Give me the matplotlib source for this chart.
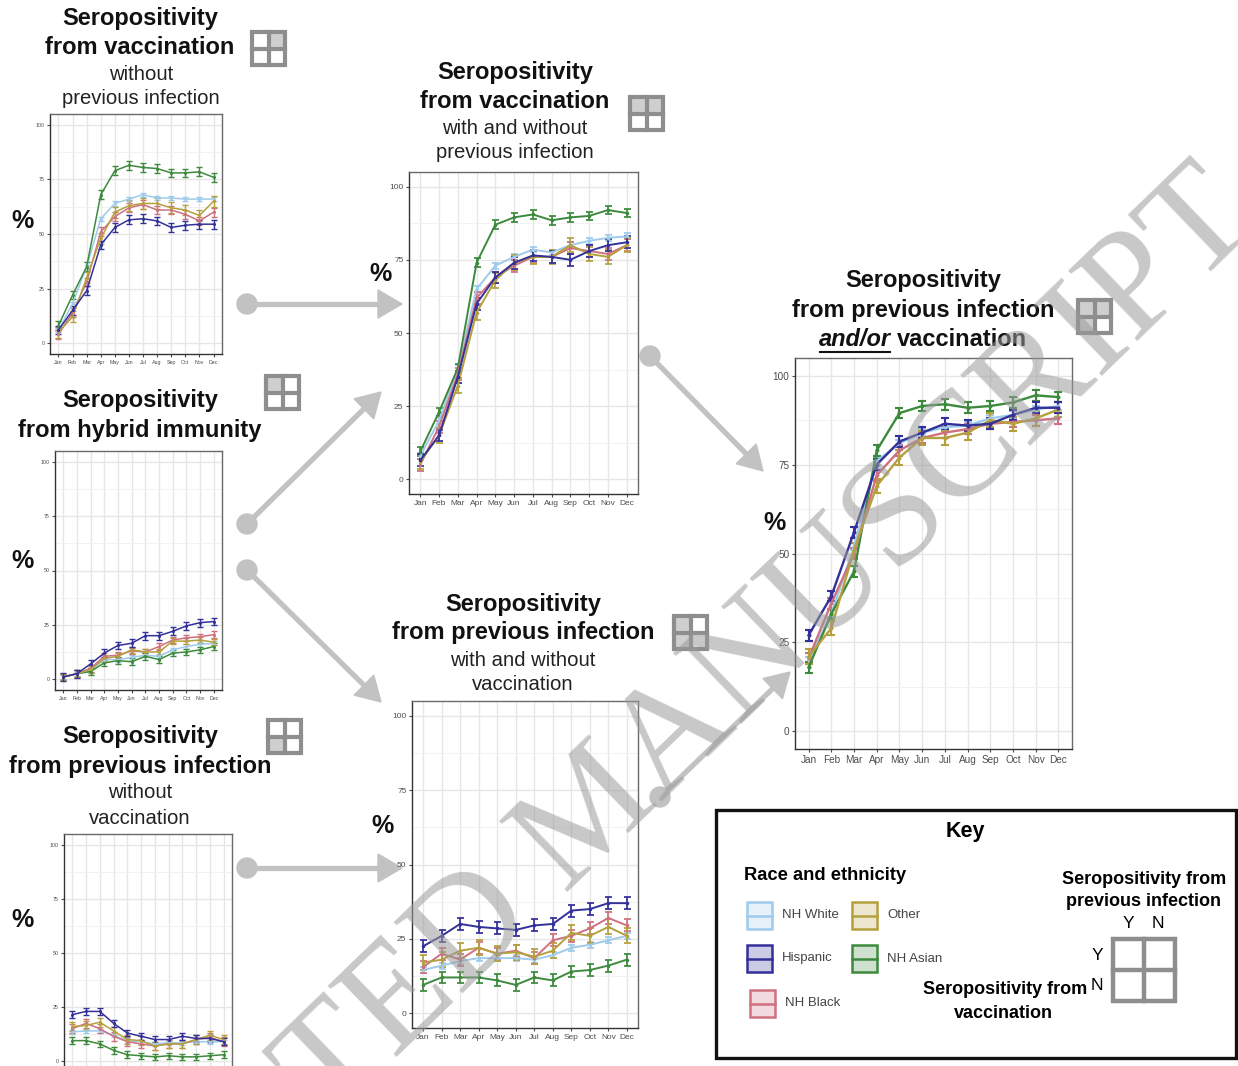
import matplotlib
matplotlib.use("Agg")
import matplotlib.pyplot as plt
from matplotlib.patches import Rectangle, Circle, Polygon
import numpy as np

plt.rcParams["font.family"] = ["Liberation Sans", "DejaVu Sans"]

W, H = 1238, 1066

months = ["Jan", "Feb", "Mar", "Apr", "May", "Jun",
          "Jul", "Aug", "Sep", "Oct", "Nov", "Dec"]
groups = ["NH White", "NH Asian", "NH Black", "Other", "Hispanic"]
colors = {"NH White": "#9fcbea", "Hispanic": "#33309a", "NH Black": "#cf7081",
          "Other": "#b5a03e", "NH Asian": "#3d8a3d"}

# Seropositivity (%) by month, per group
vacc_no_inf = {
    "NH Asian": [8, 22, 35, 68, 79, 81.5, 80.5, 80, 78, 78, 78.5, 76],
    "NH White": [6, 18, 35, 57, 64, 66, 68, 66.5, 66.5, 66, 66, 66],
    "Other":    [5, 12, 30, 48, 60, 63, 64, 64, 62, 61, 58.5, 65],
    "NH Black": [4, 14, 28, 51, 58, 62, 63.5, 61, 61, 59, 56, 60],
    "Hispanic": [6, 15, 24, 45, 53, 56.5, 57, 56, 53, 54, 54.5, 54.5],
}
vacc_no_inf_err = {"NH Asian": 2, "NH White": 1, "Other": 2.5, "NH Black": 2, "Hispanic": 2}

hybrid = {
    "Hispanic": [1, 2.5, 7, 12, 15.5, 16.5, 20, 20, 22, 24.5, 26, 26.5],
    "NH Black": [1, 2.5, 5, 10.5, 11, 13, 12.5, 15, 18, 19, 19.5, 20.5],
    "Other":    [1, 2.5, 4.5, 9.5, 10.5, 13.5, 12.5, 12.5, 17.5, 17.5, 18, 17],
    "NH White": [1, 2.5, 4, 9, 9, 10, 11, 10.5, 13.5, 15, 16, 16.5],
    "NH Asian": [1, 2.5, 3.5, 7.5, 8.5, 8, 10.5, 9, 12, 12.5, 13.5, 15],
}
hybrid_err = {"Hispanic": 1.8, "NH Black": 1.5, "Other": 1.5, "NH White": 1, "NH Asian": 1.5}

inf_no_vacc = {
    "Hispanic": [21.5, 23, 23, 17.5, 13, 11.5, 10, 10, 11.5, 10.5, 10.5, 9],
    "NH Black": [15, 17.5, 15, 11.5, 9, 8, 7, 8, 8, 10, 11, 9],
    "Other":    [16, 16.5, 18, 14, 10, 9.5, 7, 8, 8, 10, 12, 10],
    "NH White": [13.5, 14, 14, 12, 9.5, 9, 8, 8.5, 8.5, 9, 9, 9],
    "NH Asian": [9.5, 9.5, 8, 5, 3, 2.5, 2, 2.5, 2, 2, 2.5, 3],
}
inf_no_vacc_err = {"Hispanic": 1.5, "NH Black": 2, "Other": 2, "NH White": 1, "NH Asian": 1.5}

vacc_any = {
    "NH Asian": [9.5, 23, 38, 74, 87, 89.5, 90.5, 88.5, 89.5, 90, 92, 91],
    "NH White": [8, 20, 38, 65, 73, 76, 78.5, 77.5, 80, 81.5, 82.5, 83],
    "Hispanic": [6.5, 15, 35, 60, 69, 74, 76.5, 76, 75, 78, 80, 81],
    "NH Black": [5, 18, 36, 62, 69, 73, 76, 76, 79, 78, 77, 80],
    "Other":    [6, 15, 32, 57, 68, 74, 76, 76, 80, 77, 76, 80],
}
vacc_any_err = {"NH Asian": 1.5, "NH White": 1, "Hispanic": 2, "NH Black": 2, "Other": 2.5}

inf_any = {
    "Hispanic": [22.5, 26, 30, 29, 28.5, 28, 29.5, 30, 34.5, 35, 37, 37],
    "NH Black": [15.5, 20, 18, 22, 20, 21, 18.5, 24.5, 26, 28.5, 32, 29.5],
    "Other":    [17, 18, 21, 22, 20, 20.5, 19, 21, 27, 26, 29, 26],
    "NH White": [14.5, 16, 17.5, 18.5, 18.5, 18.5, 18, 19.5, 22, 23, 24.5, 26],
    "NH Asian": [9.5, 12, 12, 12, 11, 9.5, 12, 11, 14, 14.5, 16, 18],
}
inf_any_err = {"Hispanic": 2, "NH Black": 2, "Other": 2.5, "NH White": 1, "NH Asian": 2}

inf_or_vacc = {
    "Hispanic": [27, 38, 56, 75, 81.5, 84, 86.5, 86, 86.5, 89, 91, 91],
    "NH Asian": [18, 33, 45, 79, 89.5, 91.5, 92, 91, 91.5, 92.5, 94.5, 94],
    "NH White": [20, 33, 52, 76, 81, 84, 85.5, 86, 88, 89, 90.5, 91.5],
    "NH Black": [20.5, 36, 50, 72, 79, 82.5, 84, 85, 86.5, 87, 87.5, 88],
    "Other":    [21, 29, 51, 69, 77, 82.5, 82.5, 84, 87.5, 86.5, 88, 90.5],
}
inf_or_vacc_err = {"Hispanic": 1.5, "NH Asian": 1.5, "NH White": 1, "NH Black": 1.5, "Other": 2}

fig = plt.figure(figsize=(W / 100, H / 100), dpi=100)

# full-figure drawing layer in pixel units
cv = fig.add_axes([0, 0, 1, 1])
cv.set_xlim(0, W)
cv.set_ylim(H, 0)
cv.axis("off")


def px_axes(x0, y0, x1, y1):
    return fig.add_axes([x0 / W, 1 - y1 / H, (x1 - x0) / W, (y1 - y0) / H])


def panel(rect, data, err, tick_fs, lw, show_x=True):
    ax = px_axes(*rect)
    x = np.arange(1, 13)
    for g in groups:
        ax.errorbar(x, data[g], yerr=err[g], color=colors[g], lw=lw,
                    elinewidth=lw * 0.9, capsize=lw * 1.8, capthick=lw * 0.9,
                    marker="o", ms=lw * 1.1, zorder=3)
    ax.set_xlim(0.4, 12.6)
    ax.set_ylim(-5, 105)
    ax.set_xticks(x)
    ax.set_xticklabels(months if show_x else [])
    ax.set_yticks([0, 25, 50, 75, 100])
    ax.set_yticks([12.5, 37.5, 62.5, 87.5], minor=True)
    ax.grid(True, which="major", color="#e6e6e6", lw=1.0, zorder=0)
    ax.grid(True, which="minor", axis="y", color="#f0f0f0", lw=0.6, zorder=0)
    ax.tick_params(which="major", labelsize=tick_fs, colors="#4d4d4d",
                   length=2.5, width=0.8, pad=1.5, labelcolor="#4d4d4d")
    ax.tick_params(which="minor", length=0)
    for s in ax.spines.values():
        s.set_color("#6a6a6a")
        s.set_linewidth(1.0)
    ax.spines["left"].set_color("#333333")
    ax.spines["bottom"].set_color("#333333")
    ax.set_axisbelow(True)
    return ax


panel((50, 114, 222, 354), vacc_no_inf, vacc_no_inf_err, 3.8, 1.1)
panel((55, 451, 222, 690), hybrid, hybrid_err, 3.8, 1.1)
panel((64, 834, 232, 1072), inf_no_vacc, inf_no_vacc_err, 3.8, 1.1, show_x=False)
panel((409, 172, 638, 494), vacc_any, vacc_any_err, 6.0, 1.4)
panel((412, 701, 638, 1028), inf_any, inf_any_err, 6.0, 1.4)
panel((795, 358, 1072, 749), inf_or_vacc, inf_or_vacc_err, 7.2, 1.7)

# titles
TB = dict(fontsize=17, fontweight="bold", ha="center", va="center", color="#111111")
TR = dict(fontsize=14.6, ha="center", va="center", color="#222222")
cv.text(140, 18, "Seropositivity", **TB)
cv.text(140, 48, "from vaccination", **TB)
cv.text(141, 75, "without", **TR)
cv.text(141, 99, "previous infection", **TR)

cv.text(515, 72, "Seropositivity", **TB)
cv.text(515, 101, "from vaccination", **TB)
cv.text(515, 128, "with and without", **TR)
cv.text(515, 152, "previous infection", **TR)

cv.text(923, 281, "Seropositivity", **TB)
cv.text(923, 310, "from previous infection", **TB)
t_andor = cv.text(891, 340, "and/or", fontsize=17, fontweight="bold", fontstyle="italic",
                  ha="right", va="center", color="#111111")
cv.text(897, 340, "vaccination", fontsize=17, fontweight="bold", ha="left",
        va="center", color="#111111")

cv.text(140, 400, "Seropositivity", **TB)
cv.text(140, 430, "from hybrid immunity", **TB)

cv.text(140, 737, "Seropositivity", **TB)
cv.text(140, 767, "from previous infection", **TB)
cv.text(140, 793, "without", **TR)
cv.text(140, 818, "vaccination", **TR)

cv.text(523, 604, "Seropositivity", **TB)
cv.text(523, 633, "from previous infection", **TB)
cv.text(523, 660, "with and without", **TR)
cv.text(523, 684, "vaccination", **TR)

for (px, py) in [(23, 221), (23, 561), (23, 920), (380, 274), (382, 826), (775, 523)]:
    cv.text(px, py, "%", fontsize=18, fontweight="bold", ha="center", va="center",
            color="#111111")


# 2x2 status icons: rows = vaccination Y/N, cols = previous infection Y/N
def icon(x, y, shaded, size=33, lw=3.0, fill="#cfcfcf"):
    c = size / 2
    for (r, k) in shaded:
        cv.add_patch(Rectangle((x + k * c, y + r * c), c, c, facecolor=fill,
                               edgecolor="none", zorder=2))
    cv.add_patch(Rectangle((x, y), size, size, facecolor="none",
                           edgecolor="#8e8e8e", lw=lw, zorder=3))
    cv.plot([x + c, x + c], [y, y + size], color="#8e8e8e", lw=lw, zorder=3)
    cv.plot([x, x + size], [y + c, y + c], color="#8e8e8e", lw=lw, zorder=3)


icon(252, 32, [(0, 1)])
icon(630, 97, [(0, 0), (0, 1)])
icon(1078, 300, [(0, 0), (0, 1), (1, 0)])
icon(266, 376, [(0, 0)])
icon(268, 720, [(1, 0)])
icon(674, 616, [(0, 0), (1, 0)])


def arrow(x0, y0, x1, y1, col="#c2c2c2"):
    d = np.array([x1 - x0, y1 - y0], float)
    u = d / np.hypot(*d)
    n = np.array([-u[1], u[0]])
    hl, hw = 24, 28
    base = np.array([x1, y1]) - hl * u
    cv.add_patch(Circle((x0, y0), 10, color=col, zorder=1))
    cv.plot([x0, base[0]], [y0, base[1]], color=col, lw=3.8, zorder=1,
            solid_capstyle="butt")
    cv.add_patch(Polygon([(x1, y1), base + hw / 2 * n, base - hw / 2 * n],
                         closed=True, color=col, zorder=1))


arrow(247, 304, 402, 304)
arrow(247, 524, 381, 392)
arrow(247, 570, 381, 702)
arrow(247, 868, 402, 868)
arrow(650, 356, 763, 471)
arrow(660, 797, 790, 672)

# key box
cv.add_patch(Rectangle((716, 810), 520, 248, facecolor="white", edgecolor="#111111",
                       lw=2.4, zorder=1))
cv.text(965, 831, "Key", fontsize=15.5, fontweight="bold", ha="center", va="center")
cv.text(744, 876, "Race and ethnicity", fontsize=13.2, fontweight="bold", ha="left",
        va="center")
key_pos = {"NH White": (747, 902), "Other": (852, 902), "Hispanic": (747, 945),
           "NH Asian": (852, 945), "NH Black": (750, 990)}
for g, (kx, ky) in key_pos.items():
    col = colors[g]
    cv.add_patch(Rectangle((kx, ky), 25, 27, facecolor=col, alpha=0.25,
                           edgecolor="none", zorder=2))
    cv.add_patch(Rectangle((kx, ky), 25, 27, facecolor="none", edgecolor=col,
                           lw=1.8, zorder=3))
    cv.plot([kx, kx + 25], [ky + 13.5, ky + 13.5], color=col, lw=1.8, zorder=3)
    cv.text(kx + 35, ky + 13.5, g, fontsize=9.5, ha="left", va="center",
            color="#444444")

cv.text(1144, 879, "Seropositivity from", fontsize=13, fontweight="bold",
        ha="center", va="center")
cv.text(1144, 902, "previous infection", fontsize=13, fontweight="bold",
        ha="center", va="center")
cv.text(1128, 924, "Y", fontsize=12.5, ha="center", va="center")
cv.text(1158, 924, "N", fontsize=12.5, ha="center", va="center")
cv.text(1097, 955, "Y", fontsize=12.5, ha="center", va="center")
cv.text(1097, 985, "N", fontsize=12.5, ha="center", va="center")
cv.text(1087, 990, "Seropositivity from", fontsize=13, fontweight="bold",
        ha="right", va="center")
cv.text(1003, 1013, "vaccination", fontsize=13, fontweight="bold",
        ha="center", va="center")
icon(1113, 939, [], size=62, lw=3.2)

# manuscript watermark
fig.text(595 / W, 1 - 815 / H, "ACCEPTED MANUSCRIPT", family="Liberation Serif",
         fontsize=108, color="#9a9a9a", alpha=0.55, rotation=44,
         rotation_mode="anchor", ha="center", va="center", zorder=10)

# underline under the italic "and/or"
fig.canvas.draw()
bb = t_andor.get_window_extent(renderer=fig.canvas.get_renderer())
inv = cv.transData.inverted()
(ux0, _), (ux1, _) = inv.transform([(bb.x0, bb.y0), (bb.x1, bb.y0)])
cv.plot([ux0 + 1, ux1 - 1], [352, 352], color="#111111", lw=1.5)

fig.savefig("out.png", dpi=100)
